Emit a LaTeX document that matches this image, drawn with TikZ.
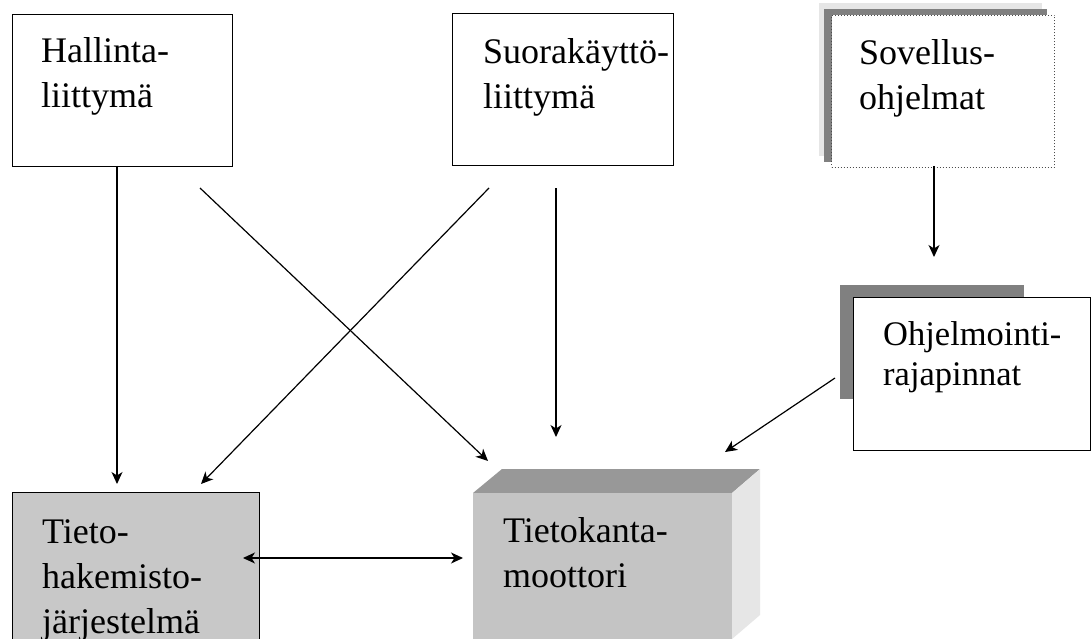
\documentclass[tikz,border=0pt]{standalone}
\usepackage{fontspec}
\setmainfont{Liberation Serif}
\usetikzlibrary{arrows.meta}
\definecolor{boxgray}{HTML}{C8C8C8}
\definecolor{cubefront}{HTML}{C4C4C4}
\definecolor{cubetop}{HTML}{989898}
\definecolor{cubeside}{HTML}{E6E6E6}
\definecolor{shdark}{HTML}{808080}
\definecolor{shlight}{HTML}{E6E6E6}
\tikzset{
  plainbox/.style={draw=black, line width=1.3pt, inner sep=0pt, anchor=north west},
  lbl/.style={anchor=base west, align=left, inner sep=0pt, font=\fontsize{36}{45}\selectfont},
  lblsmall/.style={anchor=base west, align=left, inner sep=0pt, font=\fontsize{34.5}{40}\selectfont},
  conn/.style={line width=1.2pt, -{Stealth[length=12pt,width=11pt,inset=3.5pt]}},
  biconn/.style={line width=1.2pt, {Stealth[length=12pt,width=11pt,inset=3.5pt]}-{Stealth[length=12pt,width=11pt,inset=3.5pt]}}
}
\begin{document}
\begin{tikzpicture}[x=1pt,y=-1pt]
\useasboundingbox (0,0) rectangle (1091,639);
\fill[white] (0,0) rectangle (1091,639);

% Hallintaliittyma
\node[plainbox, minimum width=220pt, minimum height=152pt] (hal) at (12,14) {};
\node[lbl] (haltxt) at (41,108) {Hallinta-\\liittymä};

% Suorakayttoliittyma
\node[plainbox, minimum width=221pt, minimum height=152pt] (suo) at (452,13) {};
\node[lbl] (suotxt) at (483,109) {Suorakäyttö-\\liittymä};

% Sovellusohjelmat with shadows
\fill[shlight] (819,3) rectangle (1042,156);
\fill[shdark] (824,9) rectangle (1047,162);
\node[draw=black!70, dotted, line width=1pt, fill=white, inner sep=0pt, anchor=north west,
      minimum width=223pt, minimum height=152pt] (sov) at (831,15) {};
\node[lbl] (sovtxt) at (859,110) {Sovellus-\\ohjelmat};

% Ohjelmointirajapinnat
\fill[shdark] (840,285) rectangle (1024,399);
\node[plainbox, fill=white, minimum width=237pt, minimum height=153pt] (ohj) at (853,297) {};
\node[lblsmall] (ohjtxt) at (883,385) {Ohjelmointi-\\rajapinnat};

% Tietohakemistojarjestelma
\node[plainbox, fill=boxgray, minimum width=247pt, minimum height=160pt] (thk) at (12,492) {};
\node[lbl] (thktxt) at (42,633) {Tieto-\\hakemisto-\\järjestelmä};

% Tietokantamoottori (cube)
\fill[cubetop] (473,493) -- (502,469) -- (760,469) -- (732,493) -- cycle;
\fill[cubeside] (732,493) -- (760,469) -- (760,615) -- (732,639) -- cycle;
\node[fill=cubefront, inner sep=0pt, anchor=north west, minimum width=259pt, minimum height=150pt] (tkm) at (473,493) {};
\node[lbl] (tkmtxt) at (503,587) {Tietokanta-\\moottori};

% connector end points
\coordinate (halS) at (117,166);
\coordinate (halE) at (117,484);
\coordinate (halD) at (200,188);
\coordinate (halDE) at (488,461);
\coordinate (suoD) at (489,188);
\coordinate (suoDE) at (201,484);
\coordinate (suoS) at (556,188);
\coordinate (suoE) at (556,437);
\coordinate (sovS) at (934,166);
\coordinate (sovE) at (934,257);
\coordinate (ohjW) at (835,378);
\coordinate (ohjE) at (725,452);
\coordinate (biL) at (243,558);
\coordinate (biR) at (463,558);

\draw[conn] (halS) -- (halE);
\draw[conn] (halD) -- (halDE);
\draw[conn] (suoD) -- (suoDE);
\draw[conn] (suoS) -- (suoE);
\draw[conn] (sovS) -- (sovE);
\draw[conn] (ohjW) -- (ohjE);
\draw[biconn] (biL) -- (biR);
\end{tikzpicture}
\end{document}
